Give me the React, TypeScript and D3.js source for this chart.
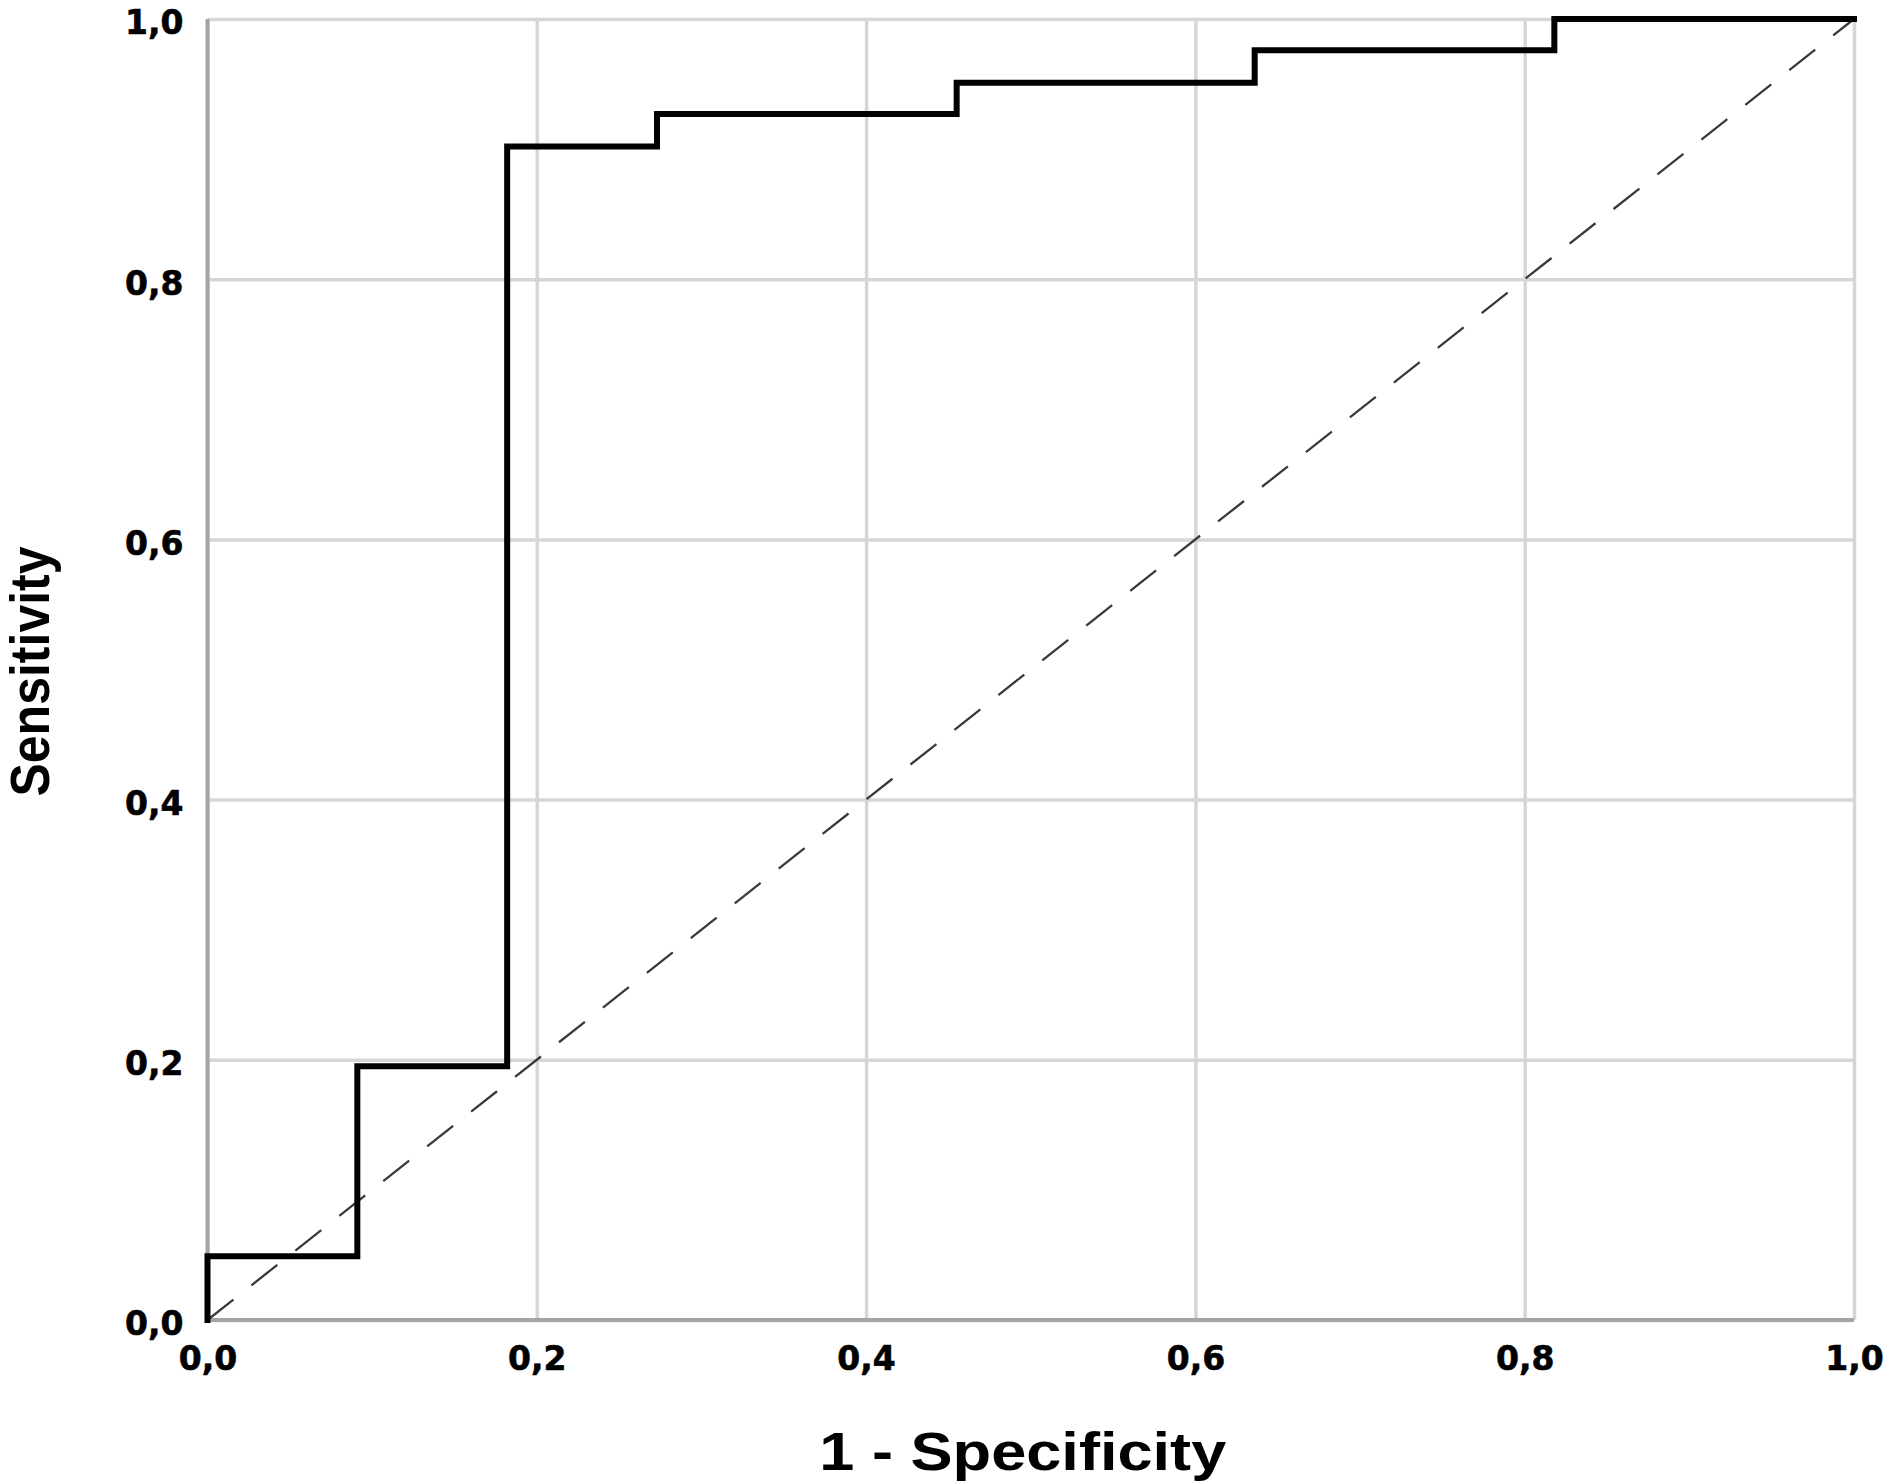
import { useEffect, useRef } from "react";
import * as d3 from "d3";

// ROC curve points (1 - specificity, sensitivity)
const fpr = [0, 0, 0.091, 0.182, 0.273, 0.455, 0.636, 0.818, 1];
const tpr = [0, 0.049, 0.195, 0.902, 0.927, 0.951, 0.976, 1, 1];

// reference line
const refX = [0, 1];
const refY = [0, 1];

const tickValues = [0, 0.2, 0.4, 0.6, 0.8, 1];
const tickLabels = ["0,0", "0,2", "0,4", "0,6", "0,8", "1,0"];

const xTitle = "1 - Specificity";
const yTitle = "Sensitivity";

function App() {
	const ref = useRef<SVGSVGElement | null>(null);

	const width = 1890;
	const height = 1483;
	const margin = { top: 19, right: 36, bottom: 163, left: 207.5 };
	const innerW = width - margin.left - margin.right;
	const innerH = height - margin.top - margin.bottom;

	useEffect(() => {
		const svg = d3.select(ref.current);
		svg.selectAll("*").remove();

		const x = d3.scaleLinear().domain([0, 1]).range([0, innerW]);
		const y = d3.scaleLinear().domain([0, 1]).range([innerH, 0]);

		const g = svg.append("g").attr("transform", `translate(${margin.left},${margin.top})`);

		const fmt = (d: d3.NumberValue) => tickLabels[tickValues.indexOf(+d)] ?? "";

		const styleTicks = (sel: d3.Selection<d3.BaseType, unknown, SVGGElement, unknown>) =>
			sel
				.style("font-family", "'DejaVu Sans', sans-serif")
				.style("font-weight", "bold")
				.style("font-size", "33px")
				.attr("fill", "#000")
				.attr("stroke", "#000")
				.attr("stroke-width", 0.6);

		// y axis with grid lines
		const yAxis = g
			.append("g")
			.call(d3.axisLeft(y).tickValues(tickValues).tickFormat(fmt).tickSize(-innerW).tickPadding(24));
		yAxis.select(".domain").remove();
		yAxis.selectAll(".tick line").attr("stroke", "#d6d6d6").attr("stroke-width", 3.5);
		styleTicks(yAxis.selectAll(".tick text").attr("dy", "0.45em"));

		// x axis with grid lines
		const xAxis = g
			.append("g")
			.attr("transform", `translate(0,${innerH})`)
			.call(d3.axisBottom(x).tickValues(tickValues).tickFormat(fmt).tickSize(-innerH).tickPadding(27));
		xAxis.select(".domain").remove();
		xAxis.selectAll(".tick line").attr("stroke", "#d6d6d6").attr("stroke-width", 3.5);
		styleTicks(xAxis.selectAll(".tick text"));

		// axis lines
		g.append("line")
			.attr("x1", x(0))
			.attr("x2", x(0))
			.attr("y1", y(0))
			.attr("y2", y(1))
			.attr("stroke", "#a4a4a4")
			.attr("stroke-width", 4);
		g.append("line")
			.attr("x1", x(0))
			.attr("x2", x(1))
			.attr("y1", y(0))
			.attr("y2", y(0))
			.attr("stroke", "#a4a4a4")
			.attr("stroke-width", 4);

		// diagonal reference
		const refLine = d3
			.line<number>()
			.x((d) => x(d))
			.y((_, i) => y(refY[i]));
		g.append("path")
			.attr("d", refLine(refX))
			.attr("fill", "none")
			.attr("stroke", "#3a3a3a")
			.attr("stroke-width", 2.3)
			.attr("stroke-dasharray", "33,23");

		// ROC curve
		const rocLine = d3
			.line<number>()
			.x((d) => x(d))
			.y((_, i) => y(tpr[i]))
			.curve(d3.curveStepAfter);
		g.append("path")
			.attr("d", rocLine(fpr))
			.attr("fill", "none")
			.attr("stroke", "#000")
			.attr("stroke-width", 6)
			.attr("stroke-linejoin", "miter")
			.attr("stroke-linecap", "square");

		// axis titles
		svg.append("text")
			.attr("x", margin.left + innerW / 2 - 8)
			.attr("y", 1470)
			.attr("text-anchor", "middle")
			.attr("textLength", 407)
			.attr("lengthAdjust", "spacingAndGlyphs")
			.style("font-family", "'Liberation Sans', Arial, sans-serif")
			.style("font-weight", "bold")
			.style("font-size", "53px")
			.text(xTitle);

		svg.append("text")
			.attr("transform", `translate(49,${margin.top + innerH / 2 + 2}) scale(1.1,1) rotate(-90)`)
			.attr("text-anchor", "middle")
			.style("font-family", "'Liberation Sans', Arial, sans-serif")
			.style("font-weight", "bold")
			.style("font-size", "50px")
			.text(yTitle);
	}, []);

	return (
		<svg
			ref={ref}
			width={width}
			height={height}
			style={{ position: "absolute", left: 0, top: 0, background: "#fff" }}
		/>
	);
}

export default App;
